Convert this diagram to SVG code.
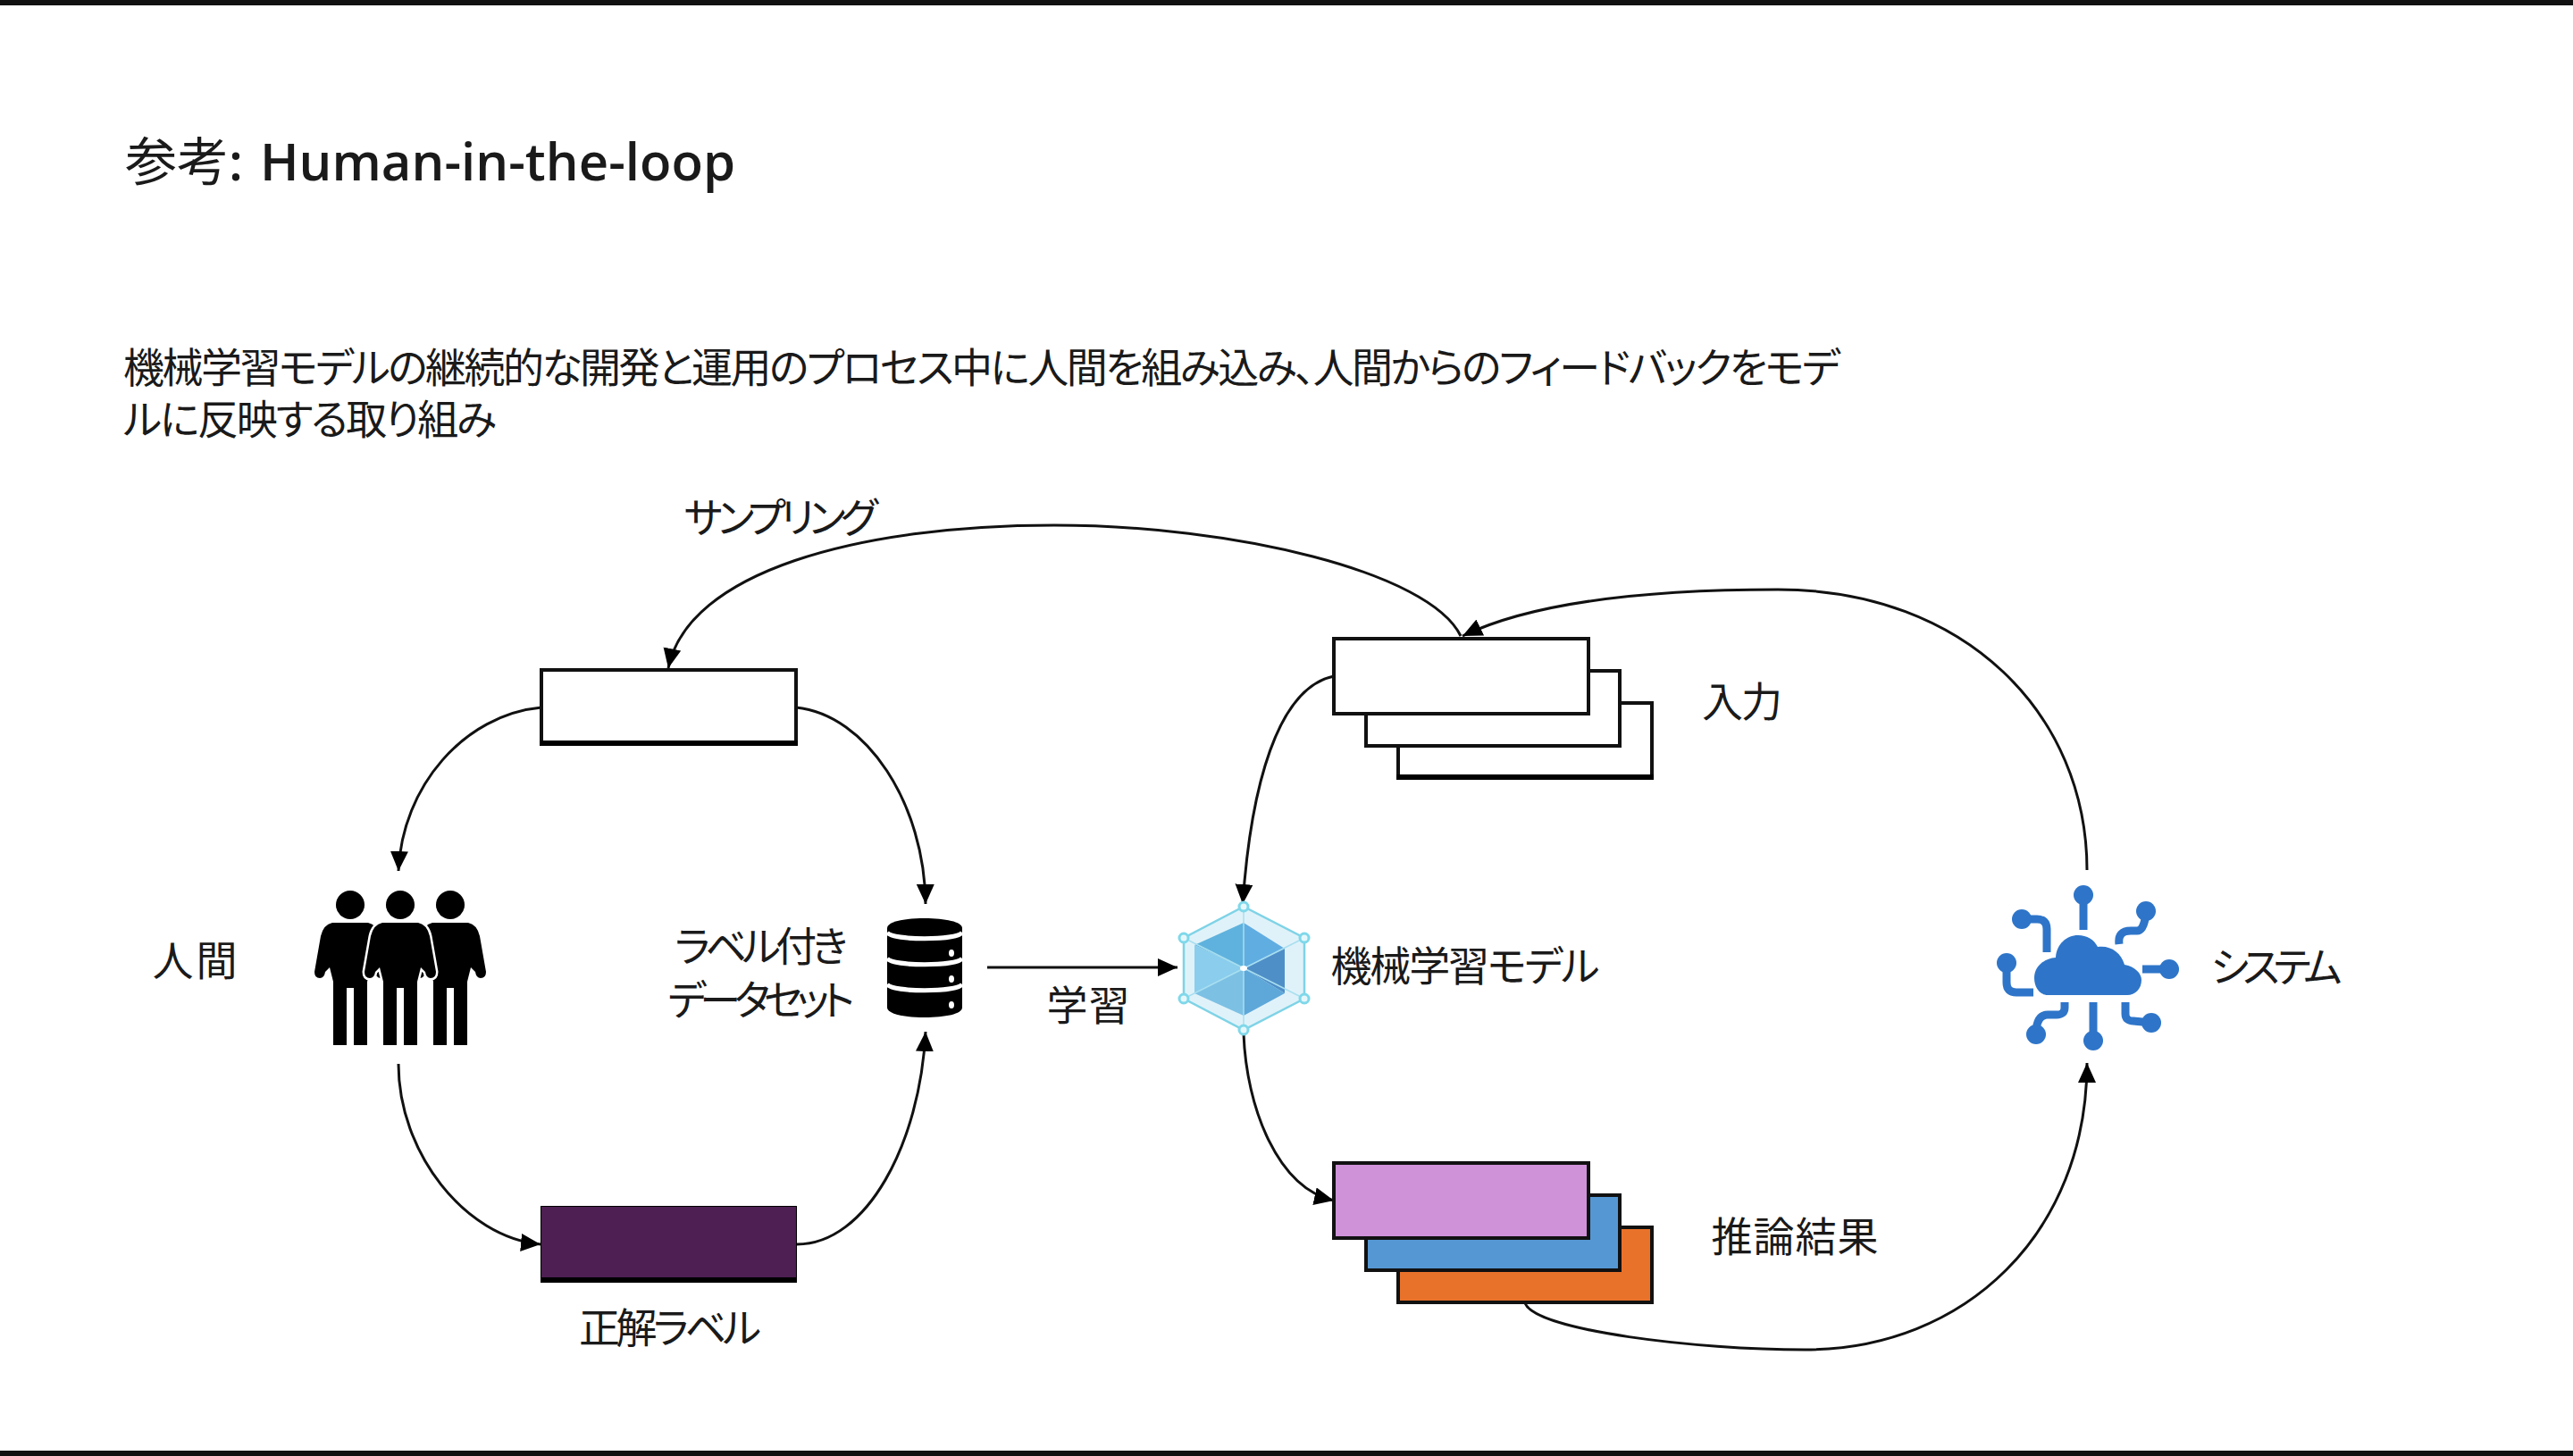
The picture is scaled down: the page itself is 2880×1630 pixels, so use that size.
<svg xmlns="http://www.w3.org/2000/svg" width="2880" height="1630" viewBox="0 0 2880 1630">
<style>
text{font-family:"Noto Sans CJK JP","Noto Sans",sans-serif;fill:#1a1a1a;font-size:46px;font-weight:400;font-feature-settings:"palt"}
.conn{fill:none;stroke:#111;stroke-width:3}
.box{stroke:#111;stroke-width:4}
.lead{fill:none;stroke:#2e75c9;stroke-width:9}
.pin{fill:#2e75c9}
.hexn{fill:#e6f7fb;stroke:#7fd8ea;stroke-width:3}
</style>
<defs>
<marker id="arrow" markerUnits="userSpaceOnUse" markerWidth="24" markerHeight="22" refX="22" refY="10" orient="auto"><path d="M0 0L22 10L0 20Z" fill="#000"/></marker>
<path id="person" d="M-20 0Q-30 2-33 15L-40 55Q-40 62-34 62Q-29 62-28 55L-23 50L-19 66V137H-4V73H4V137H19V66L23 50L28 55Q29 62 34 62Q40 62 40 55L33 15Q30 2 20 0Z"/>
</defs>
<rect id="bg" width="2880" height="1630" fill="#fff"/>
<rect id="bar-top" width="2880" height="6" fill="#111"/>
<rect id="bar-bottom" y="1624" width="2880" height="6" fill="#111"/>
<g id="title"><text x="140" y="202" style="font-size:58px">参考<tspan style="font-family:'Open Sans',sans-serif;font-weight:600">:</tspan></text><text x="291" y="202" textLength="532" style="font-family:'Open Sans',sans-serif;font-size:58px;font-weight:600">Human-in-the-loop</text></g>
<g id="description"><text x="138" y="428" textLength="1922" lengthAdjust="spacing">機械学習モデルの継続的な開発と運用のプロセス中に人間を組み込み、人間からのフィードバックをモデ</text><text x="138" y="486" textLength="418" lengthAdjust="spacing">ルに反映する取り組み</text></g>
<g id="connectors">
<path class="conn" marker-end="url(#arrow)" d="M1635 712C1600 640 1380 588 1180 588C960 588 770 640 748 748"/>
<path class="conn" marker-end="url(#arrow)" d="M2336 974C2336 800 2200 660 1990 660C1850 660 1720 672 1637 712"/>
<path class="conn" marker-end="url(#arrow)" d="M1493 757C1430 770 1400 880 1391 1012"/>
<path class="conn" marker-end="url(#arrow)" d="M1392 1157C1395 1240 1430 1330 1493 1344"/>
<path class="conn" marker-end="url(#arrow)" d="M1707 1459C1720 1490 1900 1511 2020 1511C2200 1511 2336 1380 2336 1190"/>
<path class="conn" marker-end="url(#arrow)" d="M606 792C520 800 450 880 446 975"/>
<path class="conn" marker-end="url(#arrow)" d="M891 792C970 800 1035 900 1036 1012"/>
<path class="conn" marker-end="url(#arrow)" d="M446 1191C446 1290 520 1385 605 1393"/>
<path class="conn" marker-end="url(#arrow)" d="M892 1393C970 1393 1030 1280 1036 1155"/>
<path class="conn" marker-end="url(#arrow)" d="M1105 1083L1318 1083"/>
</g>
<g id="sampled"><rect class="box" x="606" y="750" width="285" height="82" fill="#fff"/><rect x="604" y="829" width="289" height="6" fill="#000"/></g>
<g id="correct-label"><rect x="605" y="1350" width="287" height="86" fill="#000"/><rect x="606" y="1351" width="285" height="79" fill="#4d1f52"/><text x="750" y="1503" text-anchor="middle" textLength="204">正解ラベル</text></g>
<g id="input-stack">
<rect class="box" x="1565" y="787" width="284" height="82" fill="#fff"/><rect x="1563" y="867" width="288" height="6" fill="#000"/>
<rect class="box" x="1529" y="751" width="284" height="84" fill="#fff"/>
<rect class="box" x="1493" y="715" width="285" height="84" fill="#fff"/>
<text x="1950" y="802" text-anchor="middle" textLength="90">入力</text>
</g>
<g id="result-stack">
<rect class="box" x="1565" y="1374" width="284" height="84" fill="#e9722a"/>
<rect class="box" x="1529" y="1338" width="284" height="84" fill="#5597d3"/>
<rect class="box" x="1493" y="1302" width="285" height="84" fill="#cf92d8"/>
<text x="2009" y="1401" text-anchor="middle" textLength="187">推論結果</text>
</g>
<g id="people">
<use href="#person" x="392" y="1033"/><use href="#person" x="504" y="1033"/>
<use href="#person" x="448" y="1033" stroke="#fff" stroke-width="5" paint-order="stroke"/>
<ellipse cx="392" cy="1013" rx="16" ry="16"/><ellipse cx="448" cy="1013" rx="16" ry="16"/><ellipse cx="504" cy="1013" rx="16" ry="16"/>
<text x="218" y="1092" text-anchor="middle" textLength="95">人間</text>
</g>
<g id="dataset">
<path d="M993 1039C993 1032 1012 1028 1035 1028C1058 1028 1077 1032 1077 1039V1128C1077 1135 1058 1139 1035 1139C1012 1139 993 1135 993 1128Z"/>
<path d="M993 1044C1000 1053 1070 1053 1077 1044M993 1073C1000 1082 1070 1082 1077 1073M993 1102C1000 1111 1070 1111 1077 1102" fill="none" stroke="#fff" stroke-width="5"/>
<ellipse cx="1065" cy="1067" rx="3" ry="4" fill="#fff"/><ellipse cx="1065" cy="1096" rx="3" ry="4" fill="#fff"/><ellipse cx="1065" cy="1125" rx="3" ry="4" fill="#fff"/>
<text x="852" y="1076" text-anchor="middle" textLength="194">ラベル付き</text><text x="852" y="1136" text-anchor="middle" textLength="209">データセット</text>
<text x="1218" y="1142" text-anchor="middle" textLength="93">学習</text>
</g>
<g id="model">
<path d="M1392 1015L1460 1050V1118L1392 1153L1325 1118V1050Z" fill="#e0f2f9" stroke="#7fd3e6" stroke-width="2.5"/>
<path d="M1392 1033L1337 1058L1392 1084Z" fill="#5fb2dd"/>
<path d="M1392 1033L1438 1062L1392 1084Z" fill="#60ade2"/>
<path d="M1438 1062V1112L1392 1084Z" fill="#4f8fc8"/>
<path d="M1438 1112L1392 1137V1084Z" fill="#5ea7d9"/>
<path d="M1392 1137L1337 1112L1392 1084Z" fill="#7cc0e4"/>
<path d="M1337 1112V1058L1392 1084Z" fill="#8acdec"/>
<path d="M1392 1015V1153M1325 1050L1460 1118M1460 1050L1325 1118" stroke="#a8dff0" stroke-width="1.5" fill="none"/>
<circle class="hexn" cx="1392" cy="1015" r="5"/><circle class="hexn" cx="1460" cy="1050" r="5"/><circle class="hexn" cx="1460" cy="1118" r="5"/><circle class="hexn" cx="1392" cy="1153" r="5"/><circle class="hexn" cx="1325" cy="1118" r="5"/><circle class="hexn" cx="1325" cy="1050" r="5"/>
<ellipse cx="1392" cy="1084" rx="4" ry="3" fill="#fff"/>
<text x="1640" y="1098" text-anchor="middle" textLength="301">機械学習モデル</text>
</g>
<g id="system">
<path d="M2292 1114C2283 1114 2277 1105 2277 1095C2277 1082 2288 1073 2301 1072C2302 1057 2313 1047 2326 1047C2336 1047 2344 1052 2348 1060C2362 1058 2374 1066 2378 1080C2390 1082 2397 1090 2397 1097C2397 1107 2390 1114 2381 1114Z" fill="#2e75c9"/>
<path class="lead" d="M2332 1002V1041M2372 1057Q2370 1042 2385 1042H2392Q2400 1042 2402 1022M2398 1085H2428M2379 1122V1135Q2379 1143 2388 1143L2408 1145M2343 1122V1165M2311 1122V1128Q2311 1136 2302 1136H2292Q2280 1136 2279 1155M2246 1080V1100Q2246 1111 2257 1111H2276M2265 1029H2280Q2291 1029 2291 1040V1066"/>
<circle class="pin" cx="2332" cy="1002" r="11"/><circle class="pin" cx="2402" cy="1020" r="11"/><circle class="pin" cx="2428" cy="1085" r="11"/><circle class="pin" cx="2408" cy="1145" r="11"/><circle class="pin" cx="2343" cy="1165" r="11"/><circle class="pin" cx="2279" cy="1158" r="11"/><circle class="pin" cx="2246" cy="1078" r="11"/><circle class="pin" cx="2263" cy="1029" r="11"/>
<text x="2548" y="1099" text-anchor="middle" textLength="147">システム</text>
</g>
<text id="sampling-label" x="874" y="596" text-anchor="middle" textLength="217">サンプリング</text>
</svg>
